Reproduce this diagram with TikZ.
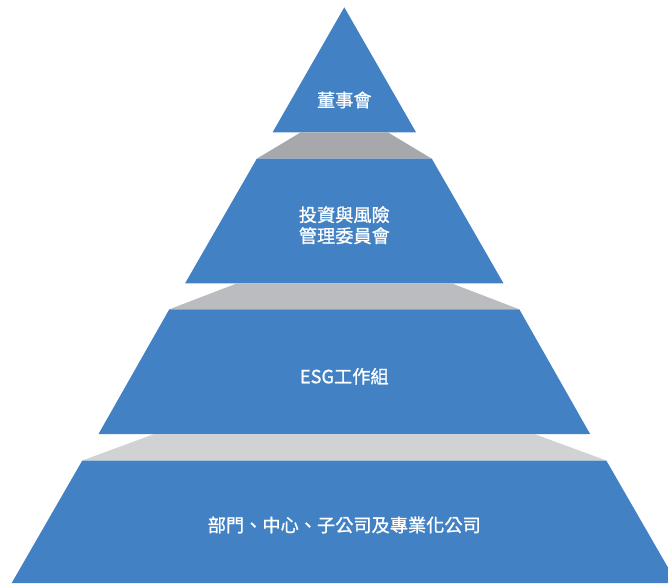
\documentclass[tikz,border=0pt]{standalone}
\usepackage{fontspec}
\newfontfamily\cjkfont[FakeBold=1]{Noto Sans CJK TC}
\definecolor{pyblue}{HTML}{4282C4}
\definecolor{grayA}{HTML}{A7A8AB}
\definecolor{grayB}{HTML}{BBBCBF}
\definecolor{grayC}{HTML}{D1D2D4}
\begin{document}
\begin{tikzpicture}[x=1pt,y=-1pt,
  tier/.style={fill=pyblue},
  band/.style={fill=#1},
  label/.style={text=white,font=\cjkfont\fontsize{18.2}{21}\selectfont,align=center,inner sep=0pt}]
\useasboundingbox (0,0) rectangle (668,583);
\clip (0,0) rectangle (668,583);
% tiers
\fill[tier] (344.3,7.3) -- (416,132.3) -- (272.6,132.3) -- cycle;
\fill[band=grayA] (300.8,132.3) -- (387.8,132.3) -- (431.8,158.7) -- (256.8,158.7) -- cycle;
\fill[tier] (256.8,158.7) -- (431.8,158.7) -- (503.5,283.3) -- (185.1,283.3) -- cycle;
\fill[band=grayB] (237.1,283.3) -- (451.5,283.3) -- (519.3,309.3) -- (169.3,309.3) -- cycle;
\fill[tier] (169.3,309.3) -- (519.3,309.3) -- (590.1,434) -- (98.5,434) -- cycle;
\fill[band=grayC] (154.3,434) -- (534.3,434) -- (606.3,460.5) -- (82.3,460.5) -- cycle;
\fill[tier] (82.3,460.5) -- (606.3,460.5) -- (676.9,583) -- (11.7,583) -- cycle;
% labels
\node[label] (t1) at (344.3,100) {董事會};
\node[label] (t2) at (344.3,225.2) {投資與風險\\管理委員會};
\node[label] (t3) at (344.3,376.3) {ESG工作組};
\node[label] (t4) at (344.3,525) {部門、中心、子公司及專業化公司};
\end{tikzpicture}
\end{document}
